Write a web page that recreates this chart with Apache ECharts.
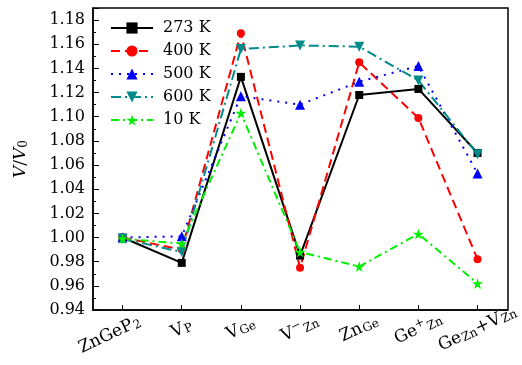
<!DOCTYPE html>
<html><head><meta charset="utf-8">
<script src="https://cdn.jsdelivr.net/npm/echarts@6/dist/echarts.min.js"></script>
<style>html,body{margin:0;padding:0;background:#fff}#c{width:522px;height:365px}</style>
</head><body><div id="c"></div>
<script>
const categories = ['ZnGeP2','VP','VGe','VZn-','ZnGe','GeZn+','GeZn+VZn'];
const catLabels = [
  '{n|ZnGeP}{s0|2}',
  '{n|V}{s|P}',
  '{n|V}{s|Ge}',
  '{n|V}{p|−}{s|Zn}',
  '{n|Zn}{s|Ge}',
  '{n|Ge}{p|+}{s|Zn}',
  '{n|Ge}{s|Zn}{n|+V}{s|Zn}'
];
const seriesNames = ['273 K','400 K','500 K','600 K','10 K'];
const v273 = [1.000, 0.979, 1.133, 0.985, 1.118, 1.123, 1.070];
const v400 = [1.000, 0.990, 1.169, 0.975, 1.145, 1.099, 0.982];
const v500 = [1.000, 1.001, 1.117, 1.110, 1.129, 1.142, 1.053];
const v600 = [0.999, 0.988, 1.156, 1.159, 1.158, 1.130, 1.069];
const v10  = [0.999, 0.995, 1.103, 0.988, 0.976, 1.003, 0.962];
const yTicks = {min: 0.94, max: 1.19, interval: 0.02};

const star = 'path://M50,0 L61,35 L98,35 L68,57 L79,91 L50,70 L21,91 L32,57 L2,35 L39,35 Z';
const font = '"DejaVu Serif","Liberation Serif",serif';
const styles = [
  {data: v273, color:'#000000', type:'solid', symbol:'rect', size:8, rot:0},
  {data: v400, color:'#ff0000', type:[9,5], symbol:'circle', size:8, rot:0},
  {data: v500, color:'#0000ff', type:[2,6], symbol:'triangle', size:10, rot:0},
  {data: v600, color:'#008b8b', type:[10,4,2,4], symbol:'triangle', size:10, rot:180},
  {data: v10,  color:'#00ee00', type:[8,4,2,4], symbol:star, size:11, rot:0}
];
const chart = echarts.init(document.getElementById('c'), null, {renderer:'canvas'});
chart.setOption({
  animation:false,
  grid:{left:93, right:14, top:8, bottom:55, show:false},
  legend:{
    left:105, top:15, orient:'vertical', itemWidth:42, itemHeight:14, itemGap:7,
    textStyle:{fontFamily:font, fontSize:16, color:'#000', lineHeight:14, padding:[0,0,0,5]},
    data: seriesNames
  },
  xAxis:{
    type:'category', data:categories, boundaryGap:true,
    axisLine:{show:true, lineStyle:{color:'#000', width:1.5}},
    axisTick:{show:true, inside:true, alignWithLabel:true, length:5, lineStyle:{color:'#000'}},
    axisLabel:{
      rotate:25, margin:19, color:'#000', align:'center', verticalAlign:'middle',
      formatter:(v,i)=>catLabels[i],
      rich:{
        n:{fontFamily:font, fontSize:17, color:'#000'},
        s:{fontFamily:font, fontSize:12, color:'#000', padding:[5,0,0,1]},
        s0:{fontFamily:font, fontSize:12, color:'#000', padding:[5,28,0,1]},
        p:{fontFamily:font, fontSize:12, color:'#000', padding:[0,0,9,0]}
      }
    },
    splitLine:{show:false}
  },
  yAxis:{
    type:'value', min:yTicks.min, max:yTicks.max, interval:yTicks.interval,
    name:'{i|V}{n|/}{i|V}{s|0}', nameLocation:'middle', nameGap:63, nameRotate:90,
    nameTextStyle:{rich:{
      i:{fontFamily:font, fontStyle:'italic', fontSize:17, color:'#000'},
      n:{fontFamily:font, fontSize:17, color:'#000'},
      s:{fontFamily:font, fontSize:12, color:'#000', padding:[6,0,0,0]}
    }},
    axisLine:{show:true, lineStyle:{color:'#000', width:1.5}},
    axisTick:{show:true, inside:true, length:6, lineStyle:{color:'#000'}},
    minorTick:{show:true, splitNumber:2, length:3, lineStyle:{color:'#000'}},
    axisLabel:{fontFamily:font, fontSize:16, color:'#000', formatter:v=>v.toFixed(2), showMaxLabel:false, margin:8},
    splitLine:{show:false}
  },
  graphic:[{type:'rect', shape:{x:93, y:8, width:415, height:302}, style:{fill:'none', stroke:'#000', lineWidth:1.5}, silent:true, z:100}],
  series: styles.map((s,i)=>({
    name:seriesNames[i], type:'line', data:s.data,
    symbol:s.symbol, symbolSize:s.size, symbolRotate:s.rot, showAllSymbol:true,
    itemStyle:{color:s.color},
    lineStyle:{color:s.color, width:2, type:s.type}
  }))
});
</script></body></html>
